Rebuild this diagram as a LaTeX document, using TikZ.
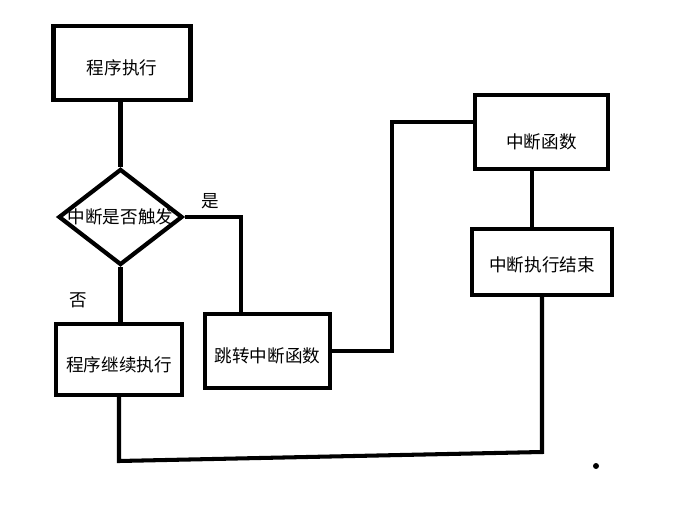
\documentclass[tikz,border=0pt]{standalone}
\usepackage{fontspec}
\setmainfont{Noto Sans CJK SC}
\usepackage{tikz}
\usetikzlibrary{positioning, shapes.geometric, calc}

\tikzset{
    stepbox/.style={draw, line width=2.4pt, rectangle, inner sep=0pt,
        text height=14pt, font=\fontsize{10}{11}\selectfont},
    decision/.style={draw, line width=2.4pt, diamond, inner sep=0pt,
        minimum width=2.48cm, minimum height=1.92cm,
        font=\fontsize{10}{11}\selectfont},
    wire/.style={line width=2.3pt},
    answer/.style={font=\fontsize{10}{11}\selectfont}
}

\begin{document}
\begin{tikzpicture}
    \fill[white] (0,0) rectangle (13.84,10.48);
    \useasboundingbox (0,0) rectangle (13.84,10.48);

    % boxes
    \node[stepbox, minimum width=2.74cm, minimum height=1.48cm] (exec) at (2.44, 9.22) {程序执行};
    \node[decision] (cond) at (2.41, 6.14) {\makebox[0pt]{中断是否触发}};
    \node[stepbox, minimum width=2.52cm, minimum height=1.42cm] (cont) at (2.38, 3.29) {程序继续执行};
    \node[stepbox, minimum width=2.50cm, minimum height=1.48cm] (jump) at (5.35, 3.46) {跳转中断函数};
    \node[stepbox, minimum width=2.66cm, minimum height=1.48cm, text height=20pt] (isr) at (10.83, 7.84) {中断函数};
    \node[stepbox, minimum width=2.80cm, minimum height=1.32cm, text height=12pt] (done) at (10.84, 5.24) {中断执行结束};

    % labels
    \node[answer] (yes) at (4.20, 6.46) {是};
    \node[answer] (no) at (1.56, 4.48) {否};

    % turning points
    \coordinate (yesturn) at (4.82, 6.14);
    \coordinate (upturn) at (7.84, 8.04);
    \coordinate (lend) at (2.38, 1.26);
    \coordinate (rend) at (10.84, 1.44);

    % connectors
    \draw[wire] (exec.south -| cond.north) -- (cond.north);
    \draw[wire] (cond.south) -- (cond.south |- cont.north);
    \draw[wire] (cond.east) -- (yesturn) -- (yesturn |- jump.north);
    \draw[wire] (jump.east) -| (upturn) -- (upturn -| isr.west);
    \draw[wire] ([xshift=-0.19cm]isr.south) -- ([xshift=-0.19cm]isr.south |- done.north);
    \draw[wire] (cont.south) -- (lend) -- (rend) -- (done.south);

    \fill (11.92, 1.16) circle (0.06);
\end{tikzpicture}
\end{document}
